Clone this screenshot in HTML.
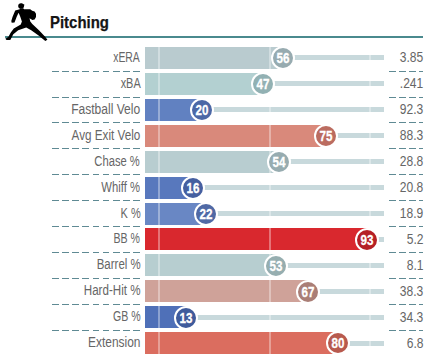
<!DOCTYPE html>
<html><head><meta charset="utf-8"><style>
html,body{margin:0;padding:0;background:#fff;width:427px;height:358px;overflow:hidden;position:relative;font-family:"Liberation Sans",sans-serif}
.hdr{position:absolute;left:49.8px;top:12.3px;font-weight:bold;font-size:16.5px;color:#151515;transform-origin:0 0;transform:scaleX(0.905);-webkit-text-stroke:0.25px #151515;line-height:20px}
.hline{position:absolute;left:5px;top:36.2px;width:418px;height:2px;background:#4a8a8e}
.lab{position:absolute;right:286.8px;height:22px;line-height:22px;font-size:14px;color:#666;white-space:nowrap;transform-origin:100% 50%;transform:scaleX(0.86)}
.val{position:absolute;right:4px;height:22px;line-height:22px;font-size:14px;color:#666;white-space:nowrap;transform-origin:100% 50%;transform:scaleX(0.86)}
.bar{position:absolute;left:145px;height:22px}
.trk{position:absolute;height:5px;background:#c8d9dc}
.cir{position:absolute;width:20px;height:20px;border:2.4px solid #fff;border-radius:50%;text-align:center}
.cir span{display:block;font-weight:bold;font-size:14px;color:#fff;line-height:20.5px;transform:scaleX(0.83);-webkit-text-stroke:0.3px #fff}
.vl{position:absolute;width:2px;background:rgba(255,255,255,0.35)}
.dl{position:absolute;left:51.7px;width:88px;height:1px;background:repeating-linear-gradient(to right,#5f8a94 0 6.7px,transparent 6.7px 10.14px)}
.dr{position:absolute;left:388.8px;width:34.5px;height:1px;background:repeating-linear-gradient(to right,#5f8a94 0 6.7px,transparent 6.7px 10.14px)}
</style></head><body>
<div class="hline"></div>
<svg style="position:absolute;left:0;top:0" width="50" height="45" viewBox="0 0 50 45">
<ellipse cx="21.1" cy="5.9" rx="2.9" ry="2.7" fill="#000"/>
<path d="M20.5 3.4 L24.6 4.7 L23.6 6.4 Z" fill="#000"/>
<path d="M19.8 8.3 L23.3 8.3 L24 9.2 L30.2 9.3 L32.2 10.8 L34.6 11.6 L36 13.8 L36 17 L34.6 19.4 L32.4 19.9 L30.8 18.9 L29.5 18.2 L30.3 21.4 L32.3 23.9 L39.2 30.6 L45.6 37.3 L47.4 39.7 L45.3 40.9 L38.9 35.8 L31.2 30.2 L26.2 27.6 L18.2 30.3 L13.3 34.2 L10.3 39.9 L6.6 40 L5.3 38.8 L8.3 36.9 L10.8 32.4 L13.8 28.6 L20.8 24.4 L21.9 21.6 L20.2 16.4 L18.6 12.8 L16.8 16.6 L14.5 22.4 L11.7 22.8 L11.3 21 L12.5 17 L15.2 10.5 L19.8 9.3 Z" fill="#000"/>
</svg>
<div class="hdr">Pitching</div>
<div class="lab" style="top:45.80px;transform:scaleX(0.742)">xERA</div>
<div class="val" style="top:46.40px">3.85</div>
<div class="trk" style="top:55.30px;left:283.24px;width:100.76px"></div>
<div class="bar" style="top:46.80px;width:138.24px;background:#b9cbcf"></div>
<div class="vl" style="top:46.80px;left:158px;height:22px"></div>
<div class="vl" style="top:46.80px;left:269px;height:22px"></div>
<div class="vl" style="top:55.30px;left:369px;height:5px"></div>
<div class="cir" style="top:46.00px;left:271.14px;background:#97abb0"><span>56</span></div>
<div class="dl" style="top:70.55px"></div>
<div class="dr" style="top:70.55px"></div>
<div class="lab" style="top:71.75px;transform:scaleX(0.781)">xBA</div>
<div class="val" style="top:72.35px">.241</div>
<div class="trk" style="top:81.25px;left:262.86px;width:121.14px"></div>
<div class="bar" style="top:72.75px;width:117.86px;background:#b3d0d1"></div>
<div class="vl" style="top:72.75px;left:158px;height:22px"></div>
<div class="vl" style="top:81.25px;left:269px;height:5px"></div>
<div class="vl" style="top:81.25px;left:369px;height:5px"></div>
<div class="cir" style="top:71.95px;left:250.76px;background:#92b1b3"><span>47</span></div>
<div class="dl" style="top:96.50px"></div>
<div class="dr" style="top:96.50px"></div>
<div class="lab" style="top:97.70px;transform:scaleX(0.861)">Fastball Velo</div>
<div class="val" style="top:98.30px">92.3</div>
<div class="trk" style="top:107.20px;left:201.70px;width:182.30px"></div>
<div class="bar" style="top:98.70px;width:56.70px;background:#6181c1"></div>
<div class="vl" style="top:98.70px;left:158px;height:22px"></div>
<div class="vl" style="top:107.20px;left:269px;height:5px"></div>
<div class="vl" style="top:107.20px;left:369px;height:5px"></div>
<div class="cir" style="top:97.90px;left:189.60px;background:#4c68a6"><span>20</span></div>
<div class="dl" style="top:122.45px"></div>
<div class="dr" style="top:122.45px"></div>
<div class="lab" style="top:123.65px;transform:scaleX(0.835)">Avg Exit Velo</div>
<div class="val" style="top:124.25px">88.3</div>
<div class="trk" style="top:133.15px;left:326.27px;width:57.73px"></div>
<div class="bar" style="top:124.65px;width:181.27px;background:#d9897b"></div>
<div class="vl" style="top:124.65px;left:158px;height:22px"></div>
<div class="vl" style="top:124.65px;left:269px;height:22px"></div>
<div class="vl" style="top:133.15px;left:369px;height:5px"></div>
<div class="cir" style="top:123.85px;left:314.17px;background:#bb6c60"><span>75</span></div>
<div class="dl" style="top:148.40px"></div>
<div class="dr" style="top:148.40px"></div>
<div class="lab" style="top:149.60px;transform:scaleX(0.8)">Chase %</div>
<div class="val" style="top:150.20px">28.8</div>
<div class="trk" style="top:159.10px;left:278.71px;width:105.29px"></div>
<div class="bar" style="top:150.60px;width:133.71px;background:#b8cdd0"></div>
<div class="vl" style="top:150.60px;left:158px;height:22px"></div>
<div class="vl" style="top:150.60px;left:269px;height:22px"></div>
<div class="vl" style="top:159.10px;left:369px;height:5px"></div>
<div class="cir" style="top:149.80px;left:266.61px;background:#97acb0"><span>54</span></div>
<div class="dl" style="top:174.35px"></div>
<div class="dr" style="top:174.35px"></div>
<div class="lab" style="top:175.55px;transform:scaleX(0.806)">Whiff %</div>
<div class="val" style="top:176.15px">20.8</div>
<div class="trk" style="top:185.05px;left:192.64px;width:191.36px"></div>
<div class="bar" style="top:176.55px;width:47.64px;background:#5878bd"></div>
<div class="vl" style="top:176.55px;left:158px;height:22px"></div>
<div class="vl" style="top:185.05px;left:269px;height:5px"></div>
<div class="vl" style="top:185.05px;left:369px;height:5px"></div>
<div class="cir" style="top:175.75px;left:180.54px;background:#455fa0"><span>16</span></div>
<div class="dl" style="top:200.30px"></div>
<div class="dr" style="top:200.30px"></div>
<div class="lab" style="top:201.50px;transform:scaleX(0.783)">K %</div>
<div class="val" style="top:202.10px">18.9</div>
<div class="trk" style="top:211.00px;left:206.23px;width:177.77px"></div>
<div class="bar" style="top:202.50px;width:61.23px;background:#6987c4"></div>
<div class="vl" style="top:202.50px;left:158px;height:22px"></div>
<div class="vl" style="top:211.00px;left:269px;height:5px"></div>
<div class="vl" style="top:211.00px;left:369px;height:5px"></div>
<div class="cir" style="top:201.70px;left:194.13px;background:#5069a5"><span>22</span></div>
<div class="dl" style="top:226.25px"></div>
<div class="dr" style="top:226.25px"></div>
<div class="lab" style="top:227.45px;transform:scaleX(0.756)">BB %</div>
<div class="val" style="top:228.05px">5.2</div>
<div class="trk" style="top:236.95px;left:367.05px;width:16.95px"></div>
<div class="bar" style="top:228.45px;width:222.05px;background:#d9282e"></div>
<div class="vl" style="top:228.45px;left:158px;height:22px"></div>
<div class="vl" style="top:228.45px;left:269px;height:22px"></div>
<div class="vl" style="top:236.95px;left:369px;height:5px"></div>
<div class="cir" style="top:227.65px;left:354.94px;background:#b52026"><span>93</span></div>
<div class="dl" style="top:252.20px"></div>
<div class="dr" style="top:252.20px"></div>
<div class="lab" style="top:253.40px;transform:scaleX(0.819)">Barrel %</div>
<div class="val" style="top:254.00px">8.1</div>
<div class="trk" style="top:262.90px;left:276.44px;width:107.56px"></div>
<div class="bar" style="top:254.40px;width:131.44px;background:#b7ced0"></div>
<div class="vl" style="top:254.40px;left:158px;height:22px"></div>
<div class="vl" style="top:254.40px;left:269px;height:22px"></div>
<div class="vl" style="top:262.90px;left:369px;height:5px"></div>
<div class="cir" style="top:253.60px;left:264.34px;background:#96aeb0"><span>53</span></div>
<div class="dl" style="top:278.15px"></div>
<div class="dr" style="top:278.15px"></div>
<div class="lab" style="top:279.35px;transform:scaleX(0.828)">Hard-Hit %</div>
<div class="val" style="top:279.95px">38.3</div>
<div class="trk" style="top:288.85px;left:308.15px;width:75.85px"></div>
<div class="bar" style="top:280.35px;width:163.15px;background:#cfa299"></div>
<div class="vl" style="top:280.35px;left:158px;height:22px"></div>
<div class="vl" style="top:280.35px;left:269px;height:22px"></div>
<div class="vl" style="top:288.85px;left:369px;height:5px"></div>
<div class="cir" style="top:279.55px;left:296.05px;background:#aa7e76"><span>67</span></div>
<div class="dl" style="top:304.10px"></div>
<div class="dr" style="top:304.10px"></div>
<div class="lab" style="top:305.30px;transform:scaleX(0.757)">GB %</div>
<div class="val" style="top:305.90px">34.3</div>
<div class="trk" style="top:314.80px;left:185.84px;width:198.16px"></div>
<div class="bar" style="top:306.30px;width:40.84px;background:#4f70b8"></div>
<div class="vl" style="top:306.30px;left:158px;height:22px"></div>
<div class="vl" style="top:314.80px;left:269px;height:5px"></div>
<div class="vl" style="top:314.80px;left:369px;height:5px"></div>
<div class="cir" style="top:305.50px;left:173.75px;background:#3f5b9c"><span>13</span></div>
<div class="dl" style="top:330.05px"></div>
<div class="dr" style="top:330.05px"></div>
<div class="lab" style="top:331.25px;transform:scaleX(0.853)">Extension</div>
<div class="val" style="top:331.85px">6.8</div>
<div class="trk" style="top:340.75px;left:337.60px;width:46.40px"></div>
<div class="bar" style="top:332.25px;width:192.60px;background:#db6d5f"></div>
<div class="vl" style="top:332.25px;left:158px;height:22px"></div>
<div class="vl" style="top:332.25px;left:269px;height:22px"></div>
<div class="vl" style="top:340.75px;left:369px;height:5px"></div>
<div class="cir" style="top:331.45px;left:325.50px;background:#b85a4e"><span>80</span></div>
</body></html>
